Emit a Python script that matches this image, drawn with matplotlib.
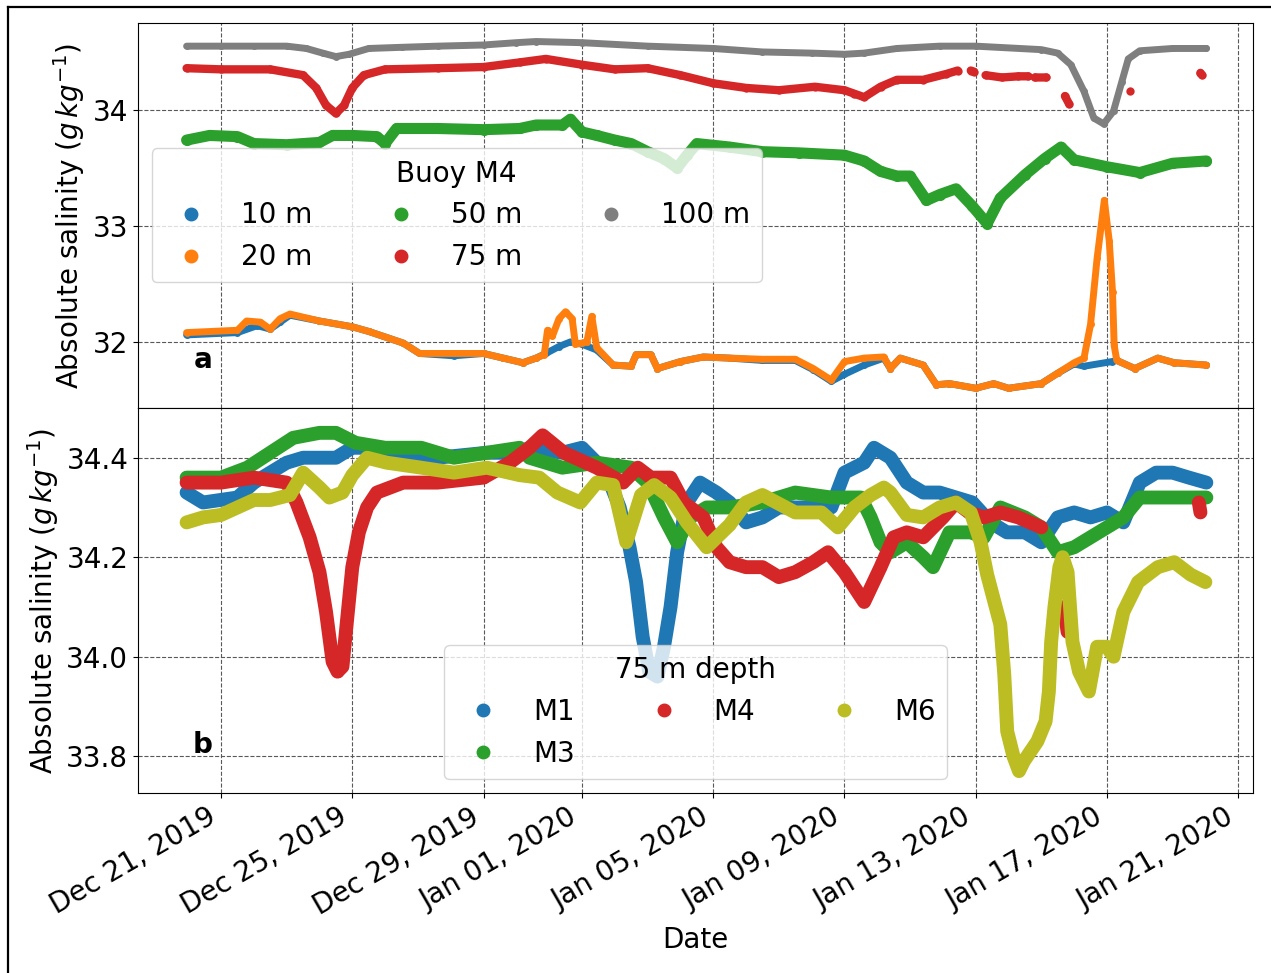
import numpy as np
import pandas as pd
import matplotlib
matplotlib.use("Agg")
import matplotlib.pyplot as plt
import matplotlib.dates as mdates
from matplotlib.lines import Line2D

# --- данные: (сутки от 21.12.2019, солёность) ---
t0 = pd.Timestamp("2019-12-21")
nan = np.nan

# Буй M4, панель a
m4_10m = [(-1.05, 32.06), (0.5, 32.08), (1.1, 32.14), (1.5, 32.11), (1.8, 32.17), (2.1, 32.23),
          (3.0, 32.18), (4.0, 32.13), (4.5, 32.09), (5.55, 31.99), (6.05, 31.90), (7.1, 31.88),
          (8.0, 31.90), (8.6, 31.86), (9.2, 31.82), (9.6, 31.86), (9.9, 31.90), (10.3, 31.96),
          (10.65, 32.00), (11.0, 31.98), (11.45, 31.93), (11.95, 31.80), (12.5, 31.79), (12.65, 31.89),
          (13.1, 31.89), (13.3, 31.77), (14.0, 31.83), (14.7, 31.87), (15.5, 31.86), (16.5, 31.84),
          (17.5, 31.84), (18.05, 31.76), (18.6, 31.66), (19.0, 31.72), (19.6, 31.80), (20.2, 31.86),
          (20.4, 31.77), (20.7, 31.86), (21.4, 31.80), (21.8, 31.63), (22.2, 31.64), (23.0, 31.60),
          (23.55, 31.64), (24.0, 31.60), (25.0, 31.64), (25.5, 31.73), (26.0, 31.81), (26.3, 31.79),
          (27.15, 31.83), (27.3, 31.84), (27.85, 31.77), (28.55, 31.86), (29.05, 31.82), (30.03, 31.80)]
m4_20m = [(-1.05, 32.08), (0.5, 32.10), (0.78, 32.18), (1.2, 32.17), (1.5, 32.11), (1.8, 32.20),
          (2.1, 32.24), (3.0, 32.18), (4.0, 32.13), (4.5, 32.09), (5.55, 31.99), (6.05, 31.90),
          (7.1, 31.90), (8.0, 31.90), (8.6, 31.86), (9.2, 31.82), (9.6, 31.86), (9.85, 31.89),
          (9.95, 32.10), (10.1, 32.05), (10.3, 32.20), (10.5, 32.26), (10.7, 32.20), (10.8, 31.98),
          (11.0, 31.99), (11.15, 32.00), (11.3, 32.22), (11.45, 31.95), (11.95, 31.80), (12.5, 31.79),
          (12.65, 31.89), (13.1, 31.89), (13.3, 31.77), (14.0, 31.83), (14.7, 31.87), (15.5, 31.86),
          (16.5, 31.85), (17.5, 31.85), (18.05, 31.77), (18.6, 31.67), (19.0, 31.83), (19.6, 31.86),
          (20.2, 31.87), (20.4, 31.77), (20.7, 31.86), (21.4, 31.80), (21.8, 31.63), (22.2, 31.64),
          (23.0, 31.60), (23.55, 31.64), (24.0, 31.60), (25.0, 31.64), (25.5, 31.73), (26.0, 31.82),
          (26.3, 31.86), (26.5, 32.15), (26.7, 32.72), (26.92, 33.22), (27.07, 32.87), (27.17, 32.43),
          (27.22, 31.97), (27.3, 31.84), (27.85, 31.77), (28.55, 31.86), (29.05, 31.82), (30.03, 31.80)]
m4_50m = [(-1.05, 33.74), (-0.35, 33.78), (0.5, 33.77), (1.0, 33.71), (2.0, 33.70), (3.0, 33.72),
          (3.4, 33.78), (4.0, 33.78), (4.75, 33.77), (5.0, 33.71), (5.35, 33.84), (6.6, 33.84),
          (8.0, 33.83), (9.1, 33.84), (9.6, 33.87), (10.4, 33.87), (10.65, 33.92), (11.0, 33.81),
          (11.45, 33.78), (12.0, 33.74), (12.5, 33.71), (13.0, 33.64), (13.5, 33.58), (13.9, 33.50),
          (14.2, 33.61), (14.5, 33.71), (15.5, 33.68), (16.5, 33.64), (17.6, 33.63), (19.0, 33.61),
          (19.6, 33.56), (20.1, 33.47), (20.6, 33.43), (21.0, 33.43), (21.5, 33.22), (21.9, 33.27),
          (22.4, 33.32), (22.9, 33.17), (23.35, 33.02), (23.75, 33.24), (24.5, 33.44), (25.1, 33.58),
          (25.6, 33.68), (26.0, 33.57), (27.0, 33.51), (28.0, 33.46), (29.0, 33.54), (30.03, 33.56)]
m4_75m = [(-1.05, 34.36), (0.0, 34.35), (1.5, 34.35), (2.5, 34.30), (2.9, 34.19), (3.2, 34.04),
          (3.5, 33.97), (3.75, 34.04), (4.0, 34.19), (4.35, 34.30), (5.0, 34.35), (6.6, 34.36),
          (8.0, 34.37), (9.1, 34.41), (9.9, 34.44), (11.0, 34.39), (12.0, 34.35), (13.0, 34.36),
          (14.0, 34.30), (15.0, 34.23), (16.0, 34.19), (17.0, 34.17), (18.1, 34.20), (19.0, 34.17),
          (19.3, 34.14), (19.6, 34.11), (20.1, 34.20), (20.6, 34.26), (21.4, 34.26), (22.1, 34.31),
          (22.45, 34.34), (22.6, nan), (22.85, 34.34), (22.95, 34.33), (23.1, nan), (23.3, 34.30),
          (23.8, 34.28), (24.3, 34.29), (24.6, 34.29), (24.7, nan), (24.8, 34.28), (25.15, 34.28),
          (25.4, nan), (25.72, 34.12), (25.85, 34.05), (26.0, nan), (27.7, 34.16), (27.8, nan),
          (29.85, 34.32), (29.9, 34.30)]
m4_100m = [(-1.05, 34.55), (0.0, 34.55), (1.0, 34.55), (2.0, 34.55), (2.6, 34.53), (3.1, 34.49),
           (3.5, 34.46), (3.9, 34.48), (4.5, 34.53), (5.5, 34.54), (6.6, 34.55), (8.0, 34.56),
           (9.0, 34.58), (9.6, 34.59), (11.0, 34.58), (13.0, 34.55), (15.0, 34.53), (16.5, 34.50),
           (18.0, 34.49), (19.0, 34.48), (19.6, 34.49), (20.6, 34.53), (21.9, 34.55), (23.0, 34.55),
           (25.0, 34.52), (25.5, 34.49), (25.9, 34.39), (26.3, 34.16), (26.6, 33.93), (26.9, 33.88),
           (27.2, 33.99), (27.45, 34.24), (27.65, 34.44), (28.0, 34.51), (29.0, 34.53), (30.03, 34.53)]

# 75 м, панель b
m1_75m = [(-1.05, 34.33), (-0.55, 34.31), (0.5, 34.32), (1.0, 34.35), (1.5, 34.37), (2.0, 34.39),
          (2.5, 34.40), (3.0, 34.40), (3.5, 34.40), (4.0, 34.42), (4.5, 34.42), (5.5, 34.41),
          (6.6, 34.40), (8.1, 34.41), (9.1, 34.41), (9.4, 34.42), (10.4, 34.41), (11.0, 34.42),
          (11.45, 34.39), (11.85, 34.35), (12.15, 34.30), (12.45, 34.22), (12.65, 34.15), (12.85, 34.04),
          (13.05, 33.97), (13.3, 33.96), (13.5, 34.02), (13.7, 34.10), (13.9, 34.21), (14.2, 34.31),
          (14.6, 34.35), (15.1, 34.33), (15.5, 34.31), (16.0, 34.27), (16.5, 34.28), (17.0, 34.30),
          (17.5, 34.30), (18.1, 34.30), (18.6, 34.30), (19.0, 34.37), (19.6, 34.39), (19.9, 34.42),
          (20.4, 34.40), (20.9, 34.35), (21.4, 34.33), (21.9, 34.33), (22.4, 34.32), (22.9, 34.31),
          (23.45, 34.27), (23.95, 34.25), (24.5, 34.25), (25.0, 34.23), (25.5, 34.28), (26.0, 34.29),
          (26.5, 34.28), (27.0, 34.29), (27.5, 34.27), (28.0, 34.35), (28.5, 34.37), (29.0, 34.37),
          (29.5, 34.36), (30.03, 34.35)]
m3_75m = [(-1.05, 34.36), (0.0, 34.36), (0.8, 34.38), (1.5, 34.41), (2.2, 34.44), (3.0, 34.45),
          (3.5, 34.45), (4.1, 34.43), (5.0, 34.42), (6.1, 34.42), (7.1, 34.40), (8.1, 34.41),
          (9.1, 34.42), (9.4, 34.40), (10.4, 34.38), (11.45, 34.39), (12.5, 34.38), (13.0, 34.35),
          (13.5, 34.28), (13.9, 34.23), (14.3, 34.28), (14.8, 34.30), (15.5, 34.30), (16.5, 34.31),
          (17.5, 34.33), (18.6, 34.32), (19.5, 34.32), (19.8, 34.28), (20.1, 34.23), (20.4, 34.21),
          (20.9, 34.23), (21.4, 34.20), (21.7, 34.18), (22.2, 34.25), (22.85, 34.25), (23.25, 34.24),
          (23.75, 34.30), (24.5, 34.28), (25.0, 34.26), (25.5, 34.21), (26.0, 34.22), (26.5, 34.24),
          (27.0, 34.26), (27.5, 34.28), (28.0, 34.32), (29.0, 34.32), (30.03, 34.32)]
m4b_75m = [(-1.05, 34.35), (0.0, 34.35), (1.0, 34.36), (2.0, 34.35), (2.3, 34.31), (2.7, 34.24),
           (3.0, 34.17), (3.2, 34.09), (3.4, 33.99), (3.55, 33.97), (3.7, 33.98), (3.85, 34.08),
           (4.0, 34.18), (4.2, 34.25), (4.45, 34.30), (4.75, 34.33), (5.55, 34.35), (6.6, 34.35),
           (8.0, 34.36), (8.8, 34.39), (9.4, 34.42), (9.8, 34.445), (10.45, 34.41), (11.45, 34.38),
           (12.25, 34.35), (12.7, 34.38), (13.1, 34.36), (13.7, 34.36), (14.1, 34.31), (14.7, 34.28),
           (15.1, 34.22), (15.5, 34.19), (16.0, 34.18), (16.5, 34.18), (17.0, 34.16), (17.5, 34.17),
           (18.05, 34.19), (18.5, 34.21), (19.0, 34.17), (19.4, 34.13), (19.6, 34.11), (20.1, 34.18),
           (20.5, 34.24), (20.9, 34.25), (21.4, 34.24), (22.0, 34.28), (22.4, 34.31), (22.8, 34.29),
           (23.25, 34.28), (23.75, 34.29), (24.3, 34.28), (25.0, 34.26), (25.1, nan), (25.7, 34.10),
           (25.8, 34.05), (25.9, nan), (29.8, 34.31), (29.85, 34.29)]
m6_75m = [(-1.05, 34.27), (-0.55, 34.28), (0.0, 34.285), (0.5, 34.30), (1.0, 34.315), (1.5, 34.315),
          (2.1, 34.325), (2.5, 34.37), (3.0, 34.34), (3.3, 34.32), (3.7, 34.33), (4.0, 34.365),
          (4.45, 34.40), (5.05, 34.39), (6.1, 34.38), (7.1, 34.37), (8.1, 34.38), (9.1, 34.365),
          (9.7, 34.36), (10.25, 34.33), (10.95, 34.31), (11.45, 34.35), (11.95, 34.345), (12.35, 34.23),
          (12.8, 34.325), (13.2, 34.345), (13.7, 34.32), (14.2, 34.27), (14.8, 34.22), (15.5, 34.265),
          (16.0, 34.31), (16.5, 34.325), (17.5, 34.29), (18.3, 34.29), (18.8, 34.26), (19.3, 34.30),
          (19.8, 34.325), (20.2, 34.34), (20.4, 34.33), (20.9, 34.285), (21.4, 34.28), (21.9, 34.30),
          (22.4, 34.31), (22.85, 34.29), (23.15, 34.23), (23.35, 34.165), (23.75, 34.065), (23.87, 33.965),
          (23.96, 33.85), (24.15, 33.80), (24.32, 33.77), (24.47, 33.79), (24.88, 33.83), (25.13, 33.87),
          (25.23, 33.93), (25.3, 34.03), (25.4, 34.10), (25.55, 34.18), (25.65, 34.20), (25.8, 34.17),
          (25.95, 34.03), (26.15, 33.97), (26.45, 33.93), (26.7, 34.02), (27.0, 34.02), (27.2, 34.00),
          (27.5, 34.09), (27.95, 34.15), (28.55, 34.18), (29.05, 34.19), (29.55, 34.165), (30.0, 34.15)]

top_labels = ["10 m", "20 m", "50 m", "75 m", "100 m"]
bottom_labels = ["M1", "M3", "M4", "M6"]


def unpack(pairs):
    a = np.array(pairs, dtype=float)
    return t0 + pd.to_timedelta(a[:, 0], unit="D"), a[:, 1]


plt.rcParams["font.family"] = ["DejaVu Sans"]
plt.rcParams["font.size"] = 20

fig, (ax1, ax2) = plt.subplots(2, 1, sharex=True, figsize=(12.71, 9.73), dpi=100)
fig.subplots_adjust(left=0.1086, right=0.9858, top=0.9764, bottom=0.185, hspace=0)

top_series = [m4_10m, m4_20m, m4_50m, m4_75m, m4_100m]
top_colors = ["tab:blue", "tab:orange", "tab:green", "tab:red", "tab:gray"]
top_widths = [5, 5, 8, 6, 5]
for s, c, w in zip(top_series, top_colors, top_widths):
    x, y = unpack(s)
    ax1.plot(x, y, color=c, lw=w, marker="o", ms=w, mew=0,
             solid_capstyle="round", solid_joinstyle="round")

bottom_series = [m1_75m, m3_75m, m4b_75m, m6_75m]
bottom_colors = ["tab:blue", "tab:green", "tab:red", "tab:olive"]
for s, c in zip(bottom_series, bottom_colors):
    x, y = unpack(s)
    ax2.plot(x, y, color=c, lw=10, marker="o", ms=8, mew=0,
             solid_capstyle="round", solid_joinstyle="round")

ax1.set_ylim(31.43, 34.75)
ax1.set_yticks([32, 33, 34])
ax2.set_ylim(33.726, 34.5)
ax2.set_yticks([33.8, 34.0, 34.2, 34.4])
ax2.set_xlim(t0 - pd.Timedelta(days=2.53), t0 + pd.Timedelta(days=31.45))
ax2.xaxis.set_major_locator(mdates.DayLocator(bymonthday=[1, 5, 9, 13, 17, 21, 25, 29]))
ax2.xaxis.set_major_formatter(mdates.DateFormatter("%b %d, %Y"))
plt.setp(ax2.get_xticklabels(), rotation=30, ha="right")

for ax in (ax1, ax2):
    ax.grid(True, color="0.35", ls="--", lw=0.8)
    ax.set_ylabel(r"Absolute salinity ($g\,kg^{-1}$)")

ax2.set_xlabel("Date")
ax1.text(0.058, 0.125, "a", transform=ax1.transAxes, fontweight="bold", ha="center", va="center")
ax2.text(0.058, 0.125, "b", transform=ax2.transAxes, fontweight="bold", ha="center", va="center")

h1 = [Line2D([], [], ls="", marker="o", ms=9, color=c) for c in top_colors]
ax1.legend(h1, top_labels, title="Buoy M4", ncol=3, loc="center left",
           columnspacing=2.2, title_fontsize=20, fontsize=20)
h2 = [Line2D([], [], ls="", marker="o", ms=9, color=c) for c in bottom_colors]
ax2.legend(h2, bottom_labels, title="75 m depth", ncol=3, loc="lower center",
           columnspacing=2.2, title_fontsize=20, fontsize=20)

# рамка слева и сверху, как на исходной картинке
fig.add_artist(Line2D([0.006, 0.006], [0, 0.993], color="black", lw=1.6, transform=fig.transFigure))
fig.add_artist(Line2D([0.006, 1.0], [0.993, 0.993], color="black", lw=1.6, transform=fig.transFigure))

fig.savefig("out.png", dpi=100)
